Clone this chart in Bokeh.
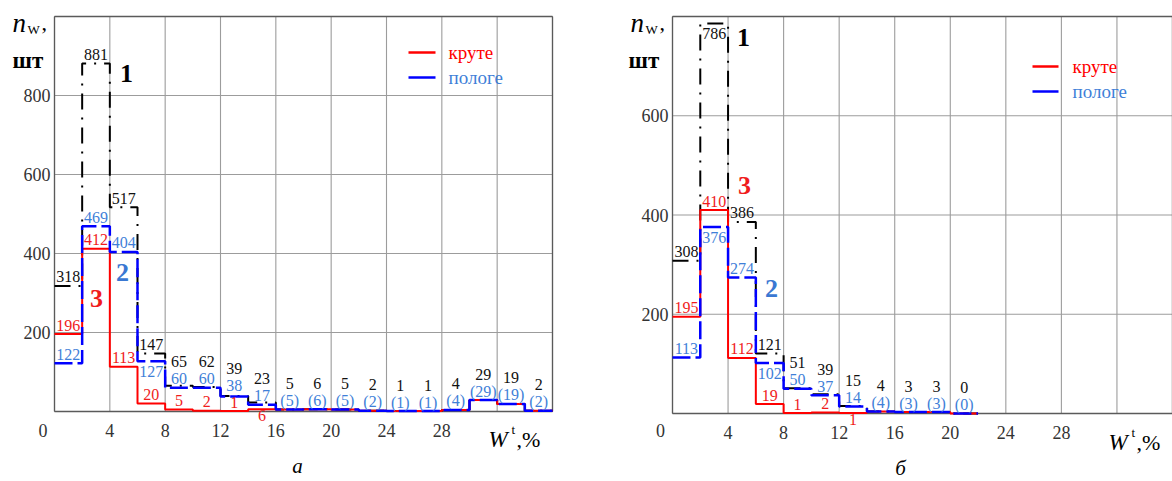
from bokeh.plotting import figure
from bokeh.models import Label, LabelSet, ColumnDataSource, Range1d
from bokeh.layouts import row
from bokeh.core.properties import value
from bokeh.embed import file_html
from bokeh.resources import INLINE

# ---------------- data ----------------
BIN_W = 2          # width of a moisture class, %
X_MAX = 36

# panel a
a_total = [318, 881, 517, 147, 65, 62, 39, 23, 5, 6, 5, 2, 1, 1, 4, 29, 19, 2]
a_gentle = [122, 469, 404, 127, 60, 60, 38, 17, 5, 6, 5, 2, 1, 1, 4, 29, 19, 2]
a_steep = [196, 412, 113, 20, 5, 2, 1, 6]

# panel б
b_total = [308, 786, 386, 121, 51, 39, 15, 4, 3, 3, 0]
b_gentle = [113, 376, 274, 102, 50, 37, 14, 4, 3, 3, 0]
b_steep = [195, 410, 112, 19, 1, 2, 1]

x_ticks = [4, 8, 12, 16, 20, 24, 28]
a_y_ticks = [200, 400, 600, 800]
b_y_ticks = [200, 400, 600]
series_names = ["круте", "пологе"]
captions = ["а", "б"]

# ---------------- style ----------------
SERIF = "Liberation Serif"
RED = "#ff0000"
BLUE = "#0000ff"
RED_TXT = "#f01c1c"
BLUE_TXT = "#3f7fd8"
BLACK_TXT = "#111111"
GRID = "#9c9c9c"
ABOVE = 9.0
SEP = 17.0
H = 478


def make_panel(total, gentle, steep, ymax, yticks, cx0, cw, fl, fr, ft, fb,
               below, ex, caption):
    kx = (fr - fl) / X_MAX
    ky = (fb - ft) / ymax

    def P(px, py):
        return (px - fl) / kx, (fb - py) / ky

    p = figure(width=cw, height=H,
               x_range=Range1d((cx0 - fl) / kx, (cx0 + cw - fl) / kx),
               y_range=Range1d((fb - H) / ky, fb / ky),
               x_axis_location=None, y_axis_location=None, min_border=0,
               output_backend="svg", toolbar_location=None)
    p.grid.visible = False
    p.outline_line_color = None
    p.background_fill_color = "white"
    p.border_fill_color = "white"

    # grid and frame
    gx = list(range(0, X_MAX + 1, 4))
    gy = list(range(0, ymax + 1, 200))
    p.segment(x0=gx, y0=[0] * len(gx), x1=gx, y1=[ymax] * len(gx),
              line_color=GRID, line_width=1.1)
    p.segment(x0=[0] * len(gy), y0=gy, x1=[X_MAX] * len(gy), y1=gy,
              line_color=GRID, line_width=1.1)
    p.segment(x0=[0, 0, 0, X_MAX], y0=[0, ymax, 0, 0],
              x1=[X_MAX, X_MAX, 0, X_MAX], y1=[0, ymax, ymax, ymax],
              line_color="#5a5a5a", line_width=1.3)

    # tick labels
    p.text(x=x_ticks, y=[-19 / ky] * len(x_ticks), text=[str(t) for t in x_ticks],
           text_align="center", text_baseline="middle", text_font=value(SERIF),
           text_font_size="18px", text_color="#333333")
    p.text(x=[-4 / kx] * len(yticks), y=yticks, text=[str(t) for t in yticks],
           text_align="right", text_baseline="middle", text_font=value(SERIF),
           text_font_size="18px", text_color="#333333")

    n = len(total)
    edges = [i * BIN_W for i in range(n + 1)]
    red_vals = list(steep) + list(gentle[len(steep):])

    p.step(edges, list(total) + [total[-1]], mode="after", line_color="black",
           line_width=2, line_dash="16 8 2 8")
    p.step(edges, red_vals + [red_vals[-1]], mode="after", line_color=RED,
           line_width=2)
    p.step(edges, list(gentle) + [gentle[-1]], mode="after", line_color=BLUE,
           line_width=2.5, line_dash="18 5")

    # value labels, stacked per class
    xs, ys, ts, cs = [], [], [], []
    for i in range(n):
        cand = []
        if i < len(steep):
            cand.append(("steep", steep[i], str(steep[i]), RED_TXT))
            gtxt = str(gentle[i])
        else:
            gtxt = "(%d)" % gentle[i]
        cand.append(("gentle", gentle[i], gtxt, BLUE_TXT))
        cand.append(("total", total[i], str(total[i]), BLACK_TXT))
        placed = []
        for key, v, t, c in cand:
            h = v * ky
            if (key, i) in below:
                cc = h - (6 if key == "steep" else 10.5)
            else:
                cc = h + ABOVE
            placed.append([cc, t, c])
        placed.sort(key=lambda r: r[0])
        for j in range(1, len(placed)):
            if placed[j][0] < placed[j - 1][0] + SEP:
                placed[j][0] = placed[j - 1][0] + SEP
        for cc, t, c in placed:
            xs.append(edges[i] + BIN_W / 2)
            ys.append(cc / ky)
            ts.append(t)
            cs.append(c)
    src = ColumnDataSource(dict(x=xs, y=ys, text=ts, color=cs))
    p.add_layout(LabelSet(x="x", y="y", text="text", text_color="color", source=src,
                          text_align="center", text_baseline="middle",
                          text_font=value(SERIF), text_font_size=value("16px")))

    def lab(px, py, text, size, color="black", style="normal", align="center",
            baseline="middle"):
        x, y = P(px, py)
        p.add_layout(Label(x=x, y=y, text=text, text_font=SERIF,
                           text_font_size=size, text_color=color,
                           text_font_style=style, text_align=align,
                           text_baseline=baseline))

    # big series numbers
    (x1, y1), (x2, y2), (x3, y3) = ex["big"]
    lab(x1, y1, "1", "26px", "black", "bold")
    lab(x2, y2, "2", "26px", "#3a78d2", "bold")
    lab(x3, y3, "3", "26px", "#f01c1c", "bold")

    # legend
    lx0, lx1, ly_r, ly_b, tx = ex["legend"]
    sx0, sy0 = P(lx0, ly_r)
    sx1, _ = P(lx1, ly_r)
    _, sy1 = P(lx0, ly_b)
    p.segment(x0=[sx0], y0=[sy0], x1=[sx1], y1=[sy0], line_color=RED, line_width=2.5)
    p.segment(x0=[sx0], y0=[sy1], x1=[sx1], y1=[sy1], line_color=BLUE, line_width=2.5)
    lab(tx, ly_r, series_names[0], "19px", RED, align="left")
    lab(tx, ly_b, series_names[1], "19px", BLUE_TXT, align="left")

    # axis titles
    nx, ny = ex["ntitle"]
    lab(nx, ny, "n", "27px", "black", "italic", align="left", baseline="alphabetic")
    lab(nx + 15, ny + 7, "W", "13px", "black", align="left", baseline="alphabetic")
    lab(nx + 29, ny, ",", "22px", "black", align="left", baseline="alphabetic")
    sx, sy = ex["sht"]
    lab(sx, sy, "шт", "23px", "black", "bold", align="left", baseline="alphabetic")
    wx, wy = ex["wtitle"]
    lab(wx, wy, "W", "23px", "black", "italic", align="left", baseline="alphabetic")
    lab(wx + 23, wy - 10, "t", "13px", "black", align="left", baseline="alphabetic")
    lab(wx + 28, wy, ",%", "22px", "black", align="left", baseline="alphabetic")
    zx, zy = ex["zero"]
    lab(zx, zy, "0", "18px", "#333333")
    cx, cy = ex["caption"]
    lab(cx, cy, caption, "21px", "black", "italic")
    return p


p1 = make_panel(a_total, a_gentle, a_steep, 1000, a_y_ticks,
                0, 612, 54, 552, 16, 411,
                {("gentle", 3), ("steep", 7)},
                dict(big=[(126, 73), (122, 272), (96, 298)],
                     legend=(408, 435, 52, 77, 448),
                     ntitle=(12, 22), sht=(12, 60),
                     wtitle=(488, 439), zero=(42.5, 430),
                     caption=(297, 465)),
                captions[0])

p2 = make_panel(b_total, b_gentle, b_steep, 800, b_y_ticks,
                612, 560, 672, 1172, 16, 413,
                {("total", 1), ("gentle", 1), ("gentle", 3), ("steep", 6)},
                dict(big=[(743, 37), (771, 288), (744, 185)],
                     legend=(1032, 1058, 66, 91, 1072),
                     ntitle=(630, 22), sht=(628, 60),
                     wtitle=(1108, 442), zero=(660, 430),
                     caption=(900, 467)),
                captions[1])

layout = row(p1, p2)
open("out.html", "w").write(file_html(layout, INLINE))
